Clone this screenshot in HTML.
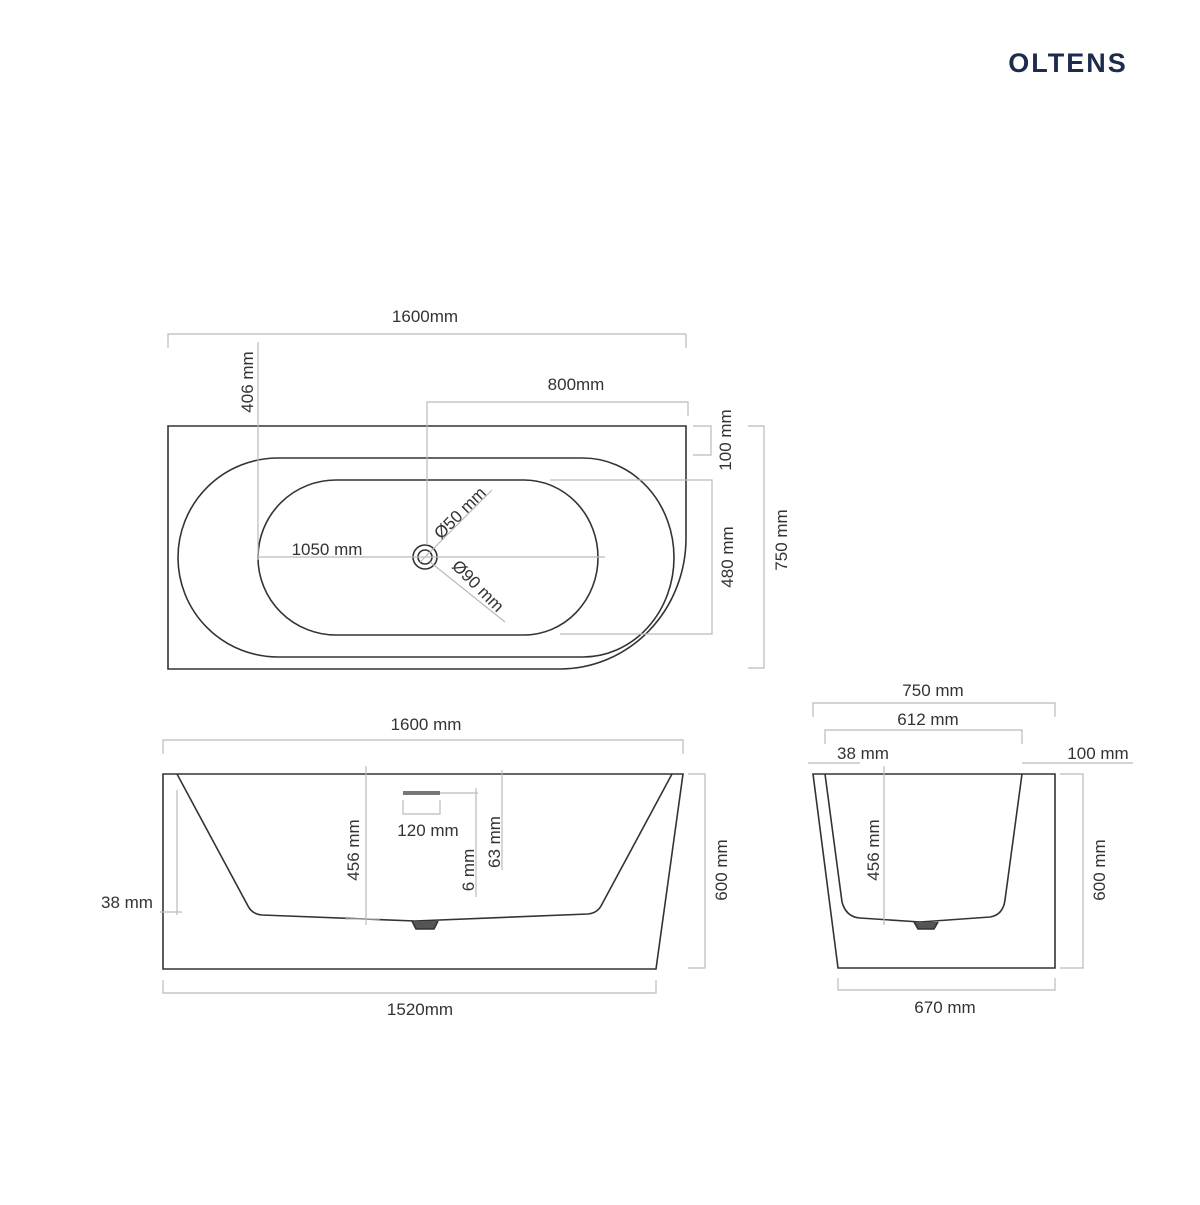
<!DOCTYPE html>
<html><head><style>body{margin:0;background:#fff}</style></head><body>
<svg width="1200" height="1200" viewBox="0 0 1200 1200" xmlns="http://www.w3.org/2000/svg" font-family="Liberation Sans, sans-serif" font-size="17" fill="none">
<rect width="1200" height="1200" fill="#fff"/>
<text x="1068" y="72" fill="#1d2b4c" font-size="27" font-weight="bold" text-anchor="middle" letter-spacing="2">OLTENS</text>
<g stroke="#333" stroke-width="1.6">
<!-- top view -->
<path d="M168,426 H686 V538 A126,131 0 0 1 560,669 H168 Z"/>
<path d="M278,458 H583 A91,99.5 0 0 1 583,657 H278 A100,99.5 0 0 1 278,458 Z"/>
<path d="M336,480 H524 A74,77.5 0 0 1 524,635 H336 A78,77.5 0 0 1 336,480 Z"/>
<circle cx="425" cy="557" r="12"/><circle cx="425" cy="557" r="7"/>
<!-- front view -->
<path d="M163,774 H683 L656,969 H163 Z"/>
<path d="M177,774 L248,906 Q252,914 262,915 L415,921 L588,914 Q597,913 601,906 L672,774"/>
<path d="M412,921 L416,929 H434 L438,921" fill="#555"/>
<!-- side view -->
<path d="M813,774 H1055 V968 H838 Z"/>
<path d="M825,774 L842,902 Q846,917 860,918 L920,922 L990,917 Q1003,915 1005,900 L1022,774"/>
<path d="M914,922 L918,929 H934 L938,922" fill="#555"/>
</g>
<g stroke="#bbb" stroke-width="1.2">
<path d="M168,348 V334 H686 V348"/>
<path d="M258,342 V560"/>
<path d="M427,545 V402 H688 V416"/>
<path d="M693,426 H711 V455 H693"/>
<path d="M550,480 H712 V634 H560"/>
<path d="M748,426 H764 V668 H748"/>
<path d="M258,557 H605"/>
<path d="M420,562 L492,490 M430,562 L505,622"/>
<path d="M163,754 V740 H683 V754"/>
<path d="M688,774 H705 V968 H688"/>
<path d="M163,980 V993 H656 V980"/>
<path d="M177,790 V915 M160,912 H182"/>
<path d="M366,766 V925 M345,919 H380"/>
<path d="M440,793 H478 M403,800 V814 H440 V800"/>
<path d="M476,788 V897"/>
<path d="M502,770 V870"/>
<path d="M813,717 V703 H1055 V717"/>
<path d="M825,744 V730 H1022 V744"/>
<path d="M808,763 H860 M1022,763 H1133"/>
<path d="M1060,774 H1083 V968 H1060"/>
<path d="M838,978 V990 H1055 V978"/>
<path d="M884,766 V925"/>
</g>
<path d="M403,793 H440" stroke="#777" stroke-width="4"/>
<g fill="#333" text-anchor="middle">
<text x="425" y="322">1600mm</text>
<text x="576" y="390">800mm</text>
<text x="327" y="555">1050 mm</text>
<text transform="translate(253,382) rotate(-90)">406 mm</text>
<text transform="translate(731,440) rotate(-90)">100 mm</text>
<text transform="translate(733,557) rotate(-90)">480 mm</text>
<text transform="translate(787,540) rotate(-90)">750 mm</text>
<text transform="translate(464,517) rotate(-45)">Ø50 mm</text>
<text transform="translate(474,590) rotate(45)">Ø90 mm</text>
<text x="426" y="730">1600 mm</text>
<text x="127" y="908">38 mm</text>
<text x="428" y="836">120 mm</text>
<text x="420" y="1015">1520mm</text>
<text transform="translate(359,850) rotate(-90)">456 mm</text>
<text transform="translate(474,870) rotate(-90)">6 mm</text>
<text transform="translate(500,842) rotate(-90)">63 mm</text>
<text transform="translate(727,870) rotate(-90)">600 mm</text>
<text x="933" y="696">750 mm</text>
<text x="928" y="725">612 mm</text>
<text x="863" y="759">38 mm</text>
<text x="1098" y="759">100 mm</text>
<text x="945" y="1013">670 mm</text>
<text transform="translate(879,850) rotate(-90)">456 mm</text>
<text transform="translate(1105,870) rotate(-90)">600 mm</text>
</g>
</svg>
</body></html>
